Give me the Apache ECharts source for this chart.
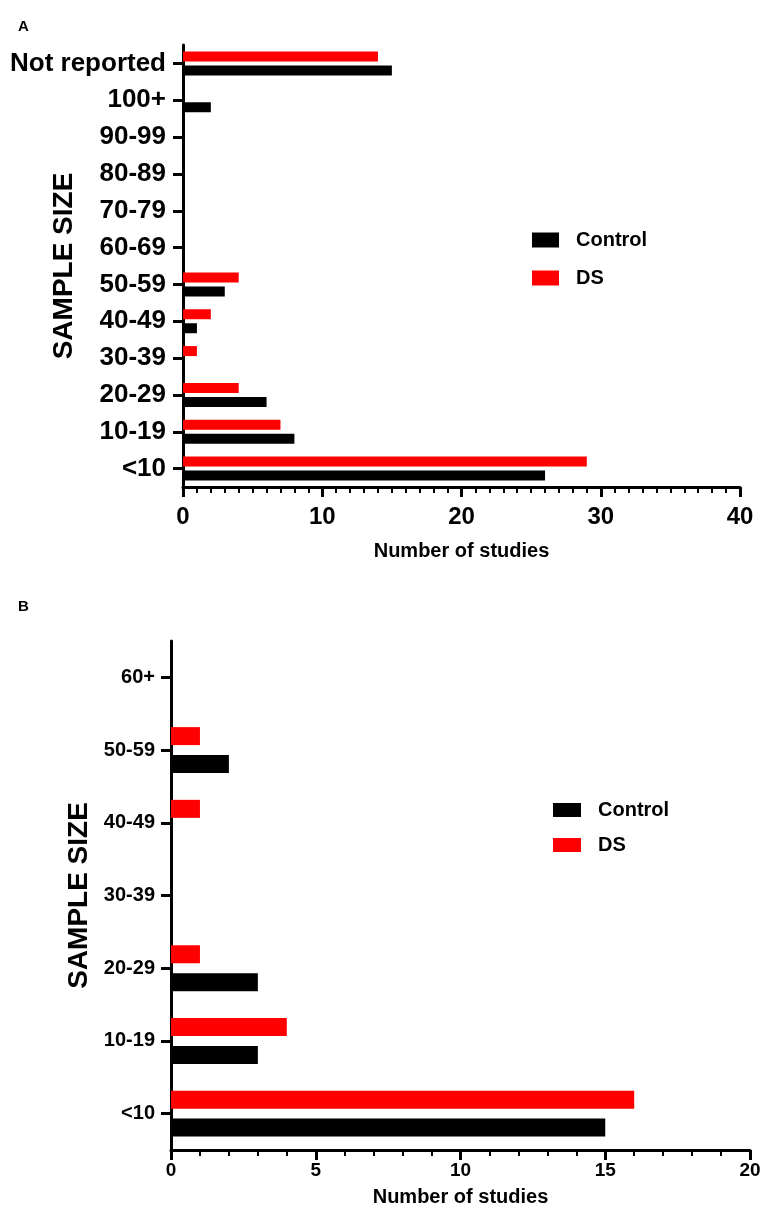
<!DOCTYPE html>
<html>
<head>
<meta charset="utf-8">
<title>Sample size</title>
<script src="https://cdn.jsdelivr.net/npm/echarts@6/dist/echarts.min.js"></script>
<style>
	html, body { margin: 0; padding: 0; background: #fff; }
	#chart { width: 765px; height: 1223px; }
</style>
</head>
<body>
<div id="chart"></div>
<script>
	// panel A
	var catsA = ['<10', '10-19', '20-29', '30-39', '40-49', '50-59', '60-69', '70-79', '80-89', '90-99', '100+', 'Not reported'];
	var controlA = [26, 8, 6, 0, 1, 3, 0, 0, 0, 0, 2, 15];
	var dsA = [29, 7, 4, 1, 2, 4, 0, 0, 0, 0, 0, 14];
	// panel B
	var catsB = ['<10', '10-19', '20-29', '30-39', '40-49', '50-59', '60+'];
	var controlB = [15, 3, 3, 0, 0, 2, 0];
	var dsB = [16, 4, 1, 0, 1, 1, 0];

	var FONT = '"Liberation Sans", Arial, sans-serif';
	var black = '#000';

	function xAxisOf(idx, max, step, minorSplit, labelSize, margin, nameGap) {
		return {
			gridIndex: idx, type: 'value', min: 0, max: max, interval: step,
			name: 'Number of studies', nameLocation: 'middle', nameGap: nameGap,
			nameTextStyle: { fontFamily: FONT, fontWeight: 'bold', fontSize: 20, color: black },
			axisLine: { show: true, lineStyle: { color: black, width: 3 } },
			axisTick: { show: true, length: 10, lineStyle: { color: black, width: 3 } },
			minorTick: { show: true, splitNumber: minorSplit, length: 6, lineStyle: { color: black, width: 2 } },
			axisLabel: { fontFamily: FONT, fontWeight: 'bold', fontSize: labelSize, color: black, margin: margin },
			splitLine: { show: false }
		};
	}

	function yAxisOf(idx, cats, labelSize, margin, nameGap) {
		return {
			gridIndex: idx, type: 'category', data: cats,
			name: 'SAMPLE SIZE', nameLocation: 'middle', nameGap: nameGap, nameRotate: 90,
			nameMoveOverlap: false,
			nameTextStyle: { fontFamily: FONT, fontWeight: 'bold', fontSize: 28, color: black },
			axisLine: { show: true, lineStyle: { color: black, width: 3 } },
			axisTick: { show: true, alignWithLabel: true, length: 10, lineStyle: { color: black, width: 3 } },
			axisLabel: { fontFamily: FONT, fontWeight: 'bold', fontSize: labelSize, color: black, margin: margin },
			splitLine: { show: false }
		};
	}

	function legendOf(left, top, w, h, gap, size) {
		return {
			orient: 'vertical', left: left, top: top, padding: 0,
			itemWidth: w, itemHeight: h, itemGap: gap, icon: 'rect',
			data: ['Control', 'DS'],
			textStyle: { fontFamily: FONT, fontWeight: 'bold', fontSize: size, color: black, padding: [0, 0, 0, 12] }
		};
	}

	var chart = echarts.init(document.getElementById('chart'));
	chart.setOption({
		backgroundColor: '#fff',
		animation: false,
		title: [
			{ text: 'A', left: 13, top: 14, textStyle: { fontFamily: FONT, fontWeight: 'bold', fontSize: 15, color: black } },
			{ text: 'B', left: 13, top: 594, textStyle: { fontFamily: FONT, fontWeight: 'bold', fontSize: 15, color: black } }
		],
		legend: [
			legendOf(532, 230, 27, 15, 18, 20),
			legendOf(553, 800, 28, 14, 15, 20)
		],
		grid: [
			{ left: 183, top: 45, width: 557, height: 442, outerBoundsMode: 'none', containLabel: false },
			{ left: 171, top: 641, width: 579, height: 509, outerBoundsMode: 'none', containLabel: false }
		],
		xAxis: [
			xAxisOf(0, 40, 10, 10, 24, 18, 54),
			xAxisOf(1, 20, 5, 5, 19, 11, 37)
		],
		yAxis: [
			yAxisOf(0, catsA, 26, 17, 105),
			yAxisOf(1, catsB, 20, 16, 78)
		],
		// DS listed first so it sits above Control in each group
		series: [
			{ name: 'DS', type: 'bar', xAxisIndex: 0, yAxisIndex: 0, data: dsA, barWidth: 10, barGap: '40%', itemStyle: { color: '#ff0000' } },
			{ name: 'Control', type: 'bar', xAxisIndex: 0, yAxisIndex: 0, data: controlA, barWidth: 10, barGap: '40%', itemStyle: { color: black } },
			{ name: 'DS', type: 'bar', xAxisIndex: 1, yAxisIndex: 1, data: dsB, barWidth: 18, barGap: '55%', itemStyle: { color: '#ff0000' } },
			{ name: 'Control', type: 'bar', xAxisIndex: 1, yAxisIndex: 1, data: controlB, barWidth: 18, barGap: '55%', itemStyle: { color: black } }
		]
	});
</script>
</body>
</html>
